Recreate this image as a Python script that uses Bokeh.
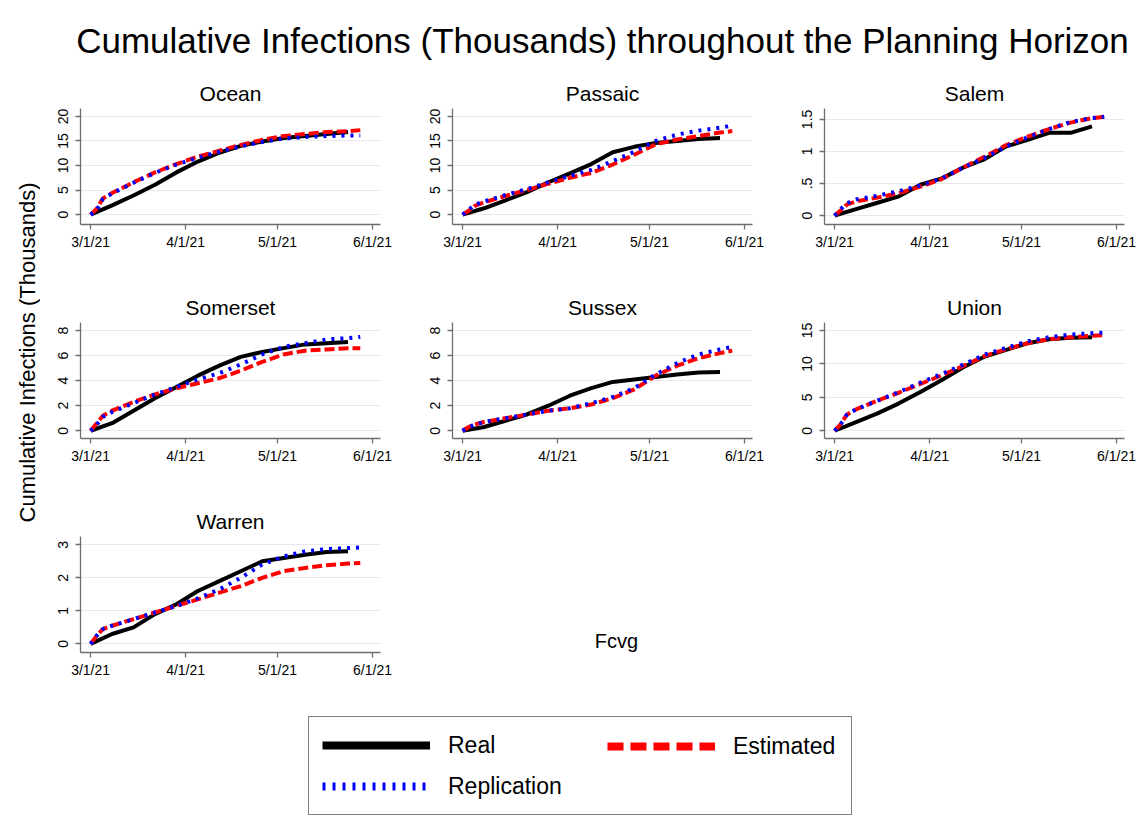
import pandas as pd
from bokeh.plotting import figure
from bokeh.layouts import column, row
from bokeh.models import Range1d, FixedTicker, Label, Legend, LegendItem
from bokeh.embed import file_html
from bokeh.resources import INLINE

FONT = "Liberation Sans"

# ---------------- data ----------------
real_dates = ["2021-03-01", "2021-03-08", "2021-03-15", "2021-03-22", "2021-03-29",
              "2021-04-05", "2021-04-12", "2021-04-19", "2021-04-26", "2021-05-03",
              "2021-05-10", "2021-05-17", "2021-05-24"]
model_dates = ["2021-03-01", "2021-03-03", "2021-03-05", "2021-03-08", "2021-03-15",
               "2021-03-22", "2021-03-29", "2021-04-05", "2021-04-12", "2021-04-19",
               "2021-04-26", "2021-05-03", "2021-05-10", "2021-05-17", "2021-05-24",
               "2021-05-28"]
tick_dates = ["2021-03-01", "2021-04-01", "2021-05-01", "2021-06-01"]
tick_labels = ["3/1/21", "4/1/21", "5/1/21", "6/1/21"]

counties = ["Ocean", "Passaic", "Salem", "Somerset", "Sussex", "Union", "Warren"]

ocean_real = [0, 1.9, 3.9, 6.1, 8.6, 10.8, 12.6, 14.0, 14.9, 15.6, 16.0, 16.4, 16.8]
ocean_est = [0, 1.2, 3.3, 4.4, 6.6, 8.6, 10.3, 11.8, 13.0, 14.2, 15.2, 16.0, 16.4, 16.8, 17.0, 17.2]
ocean_rep = [0, 1.0, 3.2, 4.3, 6.5, 8.5, 10.2, 11.6, 12.8, 13.9, 14.8, 15.5, 15.8, 16.0, 16.1, 16.1]

passaic_real = [0, 1.3, 2.9, 4.6, 6.6, 8.4, 10.3, 12.7, 13.8, 14.6, 15.0, 15.4, 15.6]
passaic_est = [0, 0.8, 1.8, 2.5, 3.8, 5.0, 6.3, 7.5, 8.5, 10.2, 12.2, 14.3, 15.3, 16.0, 16.7, 17.0]
passaic_rep = [0, 1.0, 2.0, 2.7, 4.0, 5.2, 6.6, 7.9, 9.1, 10.9, 12.8, 15.0, 16.3, 17.1, 17.7, 18.1]

salem_real = [0, 0.1, 0.2, 0.3, 0.48, 0.58, 0.75, 0.88, 1.08, 1.18, 1.29, 1.29, 1.39]
salem_est = [0, 0.08, 0.17, 0.22, 0.28, 0.35, 0.45, 0.57, 0.75, 0.92, 1.10, 1.23, 1.35, 1.45, 1.52, 1.54]
salem_rep = [0, 0.10, 0.19, 0.25, 0.31, 0.38, 0.47, 0.58, 0.75, 0.90, 1.08, 1.22, 1.35, 1.46, 1.52, 1.54]

somerset_real = [0, 0.6, 1.6, 2.6, 3.5, 4.4, 5.2, 5.9, 6.3, 6.6, 6.9, 7.0, 7.1]
somerset_est = [0, 0.6, 1.2, 1.6, 2.3, 2.9, 3.4, 3.8, 4.2, 4.8, 5.5, 6.1, 6.4, 6.5, 6.6, 6.6]
somerset_rep = [0, 0.5, 1.1, 1.5, 2.2, 2.9, 3.5, 4.1, 4.6, 5.3, 6.1, 6.7, 7.0, 7.3, 7.4, 7.5]

sussex_real = [0, 0.3, 0.8, 1.3, 2.0, 2.8, 3.4, 3.9, 4.1, 4.3, 4.5, 4.65, 4.7]
sussex_est = [0, 0.3, 0.5, 0.7, 1.0, 1.3, 1.6, 1.8, 2.1, 2.6, 3.3, 4.4, 5.2, 5.8, 6.2, 6.4]
sussex_rep = [0, 0.3, 0.5, 0.7, 1.0, 1.3, 1.6, 1.8, 2.2, 2.7, 3.4, 4.5, 5.4, 6.1, 6.5, 6.7]

union_real = [0, 1.3, 2.6, 4.1, 5.8, 7.6, 9.5, 11.1, 12.1, 13.1, 13.7, 13.9, 14.0]
union_est = [0, 1.0, 2.4, 3.2, 4.5, 5.7, 7.0, 8.3, 9.7, 11.2, 12.2, 13.1, 13.7, 14.0, 14.2, 14.3]
union_rep = [0, 1.0, 2.4, 3.2, 4.5, 5.8, 7.2, 8.5, 9.9, 11.4, 12.4, 13.4, 14.0, 14.4, 14.6, 14.7]

warren_real = [0, 0.3, 0.5, 0.9, 1.2, 1.6, 1.9, 2.2, 2.5, 2.6, 2.7, 2.78, 2.8]
warren_est = [0, 0.25, 0.45, 0.55, 0.75, 0.95, 1.15, 1.35, 1.55, 1.75, 2.0, 2.2, 2.3, 2.38, 2.43, 2.45]
warren_rep = [0, 0.25, 0.45, 0.55, 0.75, 0.95, 1.15, 1.38, 1.65, 2.0, 2.4, 2.65, 2.8, 2.87, 2.9, 2.92]

y_ticks = {
    "Ocean": [0, 5, 10, 15, 20], "Passaic": [0, 5, 10, 15, 20], "Salem": [0, 0.5, 1, 1.5],
    "Somerset": [0, 2, 4, 6, 8], "Sussex": [0, 2, 4, 6, 8], "Union": [0, 5, 10, 15],
    "Warren": [0, 1, 2, 3],
}
y_tick_labels = {
    "Ocean": ["0", "5", "10", "15", "20"], "Passaic": ["0", "5", "10", "15", "20"],
    "Salem": ["0", ".5", "1", "1.5"], "Somerset": ["0", "2", "4", "6", "8"],
    "Sussex": ["0", "2", "4", "6", "8"], "Union": ["0", "5", "10", "15"],
    "Warren": ["0", "1", "2", "3"],
}
series = {
    "Ocean": (ocean_real, ocean_est, ocean_rep),
    "Passaic": (passaic_real, passaic_est, passaic_rep),
    "Salem": (salem_real, salem_est, salem_rep),
    "Somerset": (somerset_real, somerset_est, somerset_rep),
    "Sussex": (sussex_real, sussex_est, sussex_rep),
    "Union": (union_real, union_est, union_rep),
    "Warren": (warren_real, warren_est, warren_rep),
}

# ---------------- layout constants ----------------
y_ranges = {
    "Ocean": (-2.0, 21.6), "Passaic": (-2.0, 21.6), "Salem": (-0.14, 1.67),
    "Somerset": (-0.62, 8.65), "Sussex": (-0.62, 8.65), "Union": (-1.16, 16.2),
    "Warren": (-0.26, 3.25),
}
origin = pd.Timestamp("2021-03-01")


def to_days(ds):
    return [int((pd.Timestamp(d) - origin).days) for d in ds]


real_x = to_days(real_dates)
model_x = to_days(model_dates)
tick_x = to_days(tick_dates)

AXIS_COL = "#6e6e6e"
GRID_COL = "#e8e8e8"


def blank(width, height):
    f = figure(width=width, height=height, x_range=Range1d(0, width), y_range=Range1d(0, height),
               output_backend="svg", toolbar_location=None, min_border=0,
               x_axis_location=None, y_axis_location=None, outline_line_color=None)
    f.grid.visible = False
    return f


def panel(name, width, height, right, bottom):
    real, est, rep = series[name]
    p = figure(width=width, height=height, x_range=Range1d(-3.3, 94.6),
               y_range=Range1d(*y_ranges[name]), output_backend="svg", toolbar_location=None,
               min_border_left=40, min_border_right=right, min_border_top=40,
               min_border_bottom=bottom, outline_line_color=None)
    p.title.text = name
    p.title.align = "center"
    p.title.text_font = FONT
    p.title.text_font_size = "21px"
    p.title.text_font_style = "normal"
    p.title.text_color = "#000000"
    p.title.standoff = 7

    p.xaxis.ticker = FixedTicker(ticks=tick_x)
    p.xaxis.major_label_overrides = dict(zip(tick_x, tick_labels))
    p.yaxis.ticker = FixedTicker(ticks=y_ticks[name])
    p.yaxis.major_label_overrides = dict(zip(y_ticks[name], y_tick_labels[name]))
    p.yaxis.major_label_orientation = "vertical"
    for ax in (p.xaxis, p.yaxis):
        ax.axis_line_color = AXIS_COL
        ax.axis_line_width = 1.3
        ax.major_tick_line_color = AXIS_COL
        ax.major_tick_line_width = 1.3
        ax.major_tick_in = 0
        ax.major_tick_out = 5
        ax.minor_tick_line_color = None
        ax.major_label_text_font = FONT
        ax.major_label_text_font_size = "14px"
        ax.major_label_text_color = "#000000"
    p.xaxis.major_label_standoff = 4
    p.yaxis.major_label_standoff = 7
    p.xgrid.visible = False
    p.ygrid.grid_line_color = GRID_COL
    p.ygrid.grid_line_width = 1.2

    p.line(real_x, real, line_color="black", line_width=4)
    p.line(model_x, est, line_color="red", line_width=4, line_dash="10 4")
    p.line(model_x, rep, line_color="blue", line_width=4, line_dash="3 6")
    return p


# title
title_fig = blank(1139, 68)
title_fig.add_layout(Label(x=602, y=28, x_units="screen", y_units="screen",
                           text="Cumulative Infections (Thousands) throughout the Planning Horizon",
                           text_align="center", text_baseline="middle", text_font=FONT,
                           text_font_size="35px", text_color="#000000"))

# y label
ylab_fig = blank(40, 628)
ylab_fig.add_layout(Label(x=27, y=344, x_units="screen", y_units="screen", angle=1.5708,
                          text="Cumulative Infections (Thousands)", text_align="center",
                          text_baseline="middle", text_font=FONT, text_font_size="22px",
                          text_color="#000000"))

r1 = row(panel("Ocean", 372, 214, 32, 58), panel("Passaic", 372, 214, 32, 58),
         panel("Salem", 355, 214, 15, 58))
r2 = row(panel("Somerset", 372, 214, 32, 58), panel("Sussex", 372, 214, 32, 58),
         panel("Union", 355, 214, 15, 58))
xlab_fig = blank(759, 200)
xlab_fig.add_layout(Label(x=204, y=12, x_units="screen", y_units="screen", text="Fcvg",
                          text_align="center", text_baseline="middle", text_font=FONT,
                          text_font_size="20px", text_color="#000000"))
r3 = row(panel("Warren", 372, 200, 32, 44), xlab_fig)

# legend (sample renderers sit on a hidden range so only their legend glyphs show)
bottom_fig = blank(1139, 134)
bottom_fig.extra_y_ranges = {"hidden": Range1d(1000, 1001)}
lr_real = bottom_fig.line(real_x, ocean_real, line_color="black", line_width=8,
                          y_range_name="hidden")
lr_est = bottom_fig.line(model_x, ocean_est, line_color="red", line_width=8, line_dash="16 7",
                         y_range_name="hidden")
lr_rep = bottom_fig.line(model_x, ocean_rep, line_color="blue", line_width=8, line_dash="3 7",
                         y_range_name="hidden")
common = dict(glyph_width=108, glyph_height=30, label_height=30, label_standoff=18,
              spacing=11, margin=0, label_text_font=FONT, label_text_font_size="23px",
              label_text_color="#000000", label_text_baseline="middle")
legend_a = Legend(items=[LegendItem(label="Real", renderers=[lr_real]),
                         LegendItem(label="Replication", renderers=[lr_rep])],
                  location=(308, 15), orientation="vertical", padding=13, label_width=390,
                  border_line_color="black", border_line_width=1.5,
                  background_fill_color="white", background_fill_alpha=1.0, **common)
legend_b = Legend(items=[LegendItem(label="Estimated", renderers=[lr_est])],
                  location=(607, 69), orientation="vertical", padding=0, label_width=100,
                  border_line_color=None, background_fill_alpha=0.0, **common)
bottom_fig.add_layout(legend_a)
bottom_fig.add_layout(legend_b)

layout = column(title_fig, row(ylab_fig, column(r1, r2, r3)), bottom_fig)

open("out.html", "w").write(file_html(layout, INLINE))
